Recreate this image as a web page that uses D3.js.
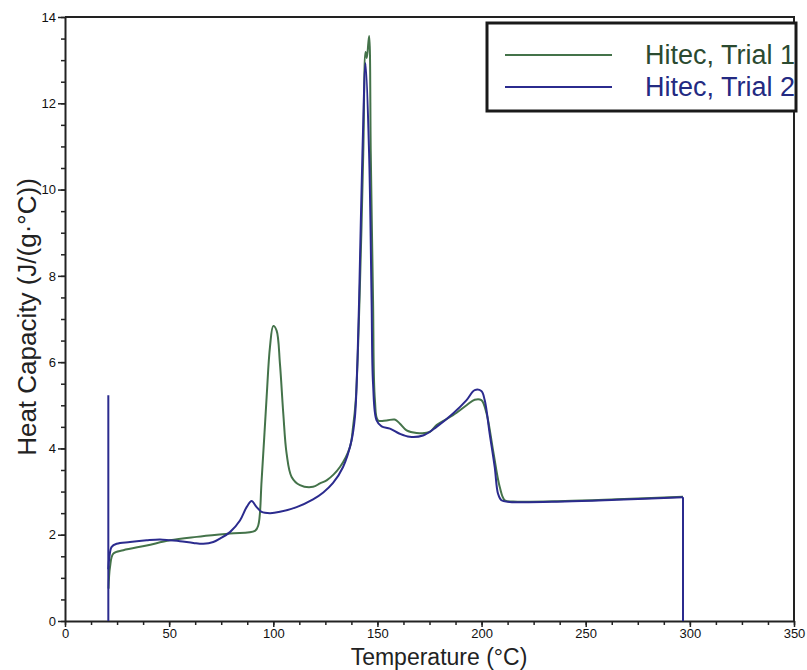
<!DOCTYPE html>
<html>
<head>
<meta charset="UTF-8">
<title>Hitec heat capacity</title>
<script src="https://cdn.jsdelivr.net/npm/d3@7"></script>
<style>
  body { margin: 0; background: #fff; }
  svg { font-family: "Liberation Sans", Arial, sans-serif; }
  .axis text { font-size: 13px; fill: #111; }
  .axis path, .axis line { stroke: #222; }
</style>
</head>
<body>
<div id="chart"></div>
<script>
// series names + colours (legend order)
var seriesNames = ["Hitec, Trial 1", "Hitec, Trial 2"];
var lineColors = ["#44734a", "#2b2b8e"];
var textColors = ["#2b4a30", "#232a82"];

// Trial 1: [temperature degC, heat capacity J/(g.degC)]
var trial1 = [
  [20.9, 0.75], [21.6, 1.25], [23.2, 1.56], [28.0, 1.64], [39.2, 1.75], [50.4, 1.87],
  [63.2, 1.95], [79.2, 2.03], [91.2, 2.09], [92.8, 2.22], [94.4, 3.26], [96.8, 5.19],
  [98.4, 6.35], [100.0, 6.84], [101.6, 6.73], [103.2, 5.96], [104.8, 4.81], [106.4, 3.88],
  [108.8, 3.34], [112.8, 3.15], [119.1, 3.11], [122.4, 3.19], [125.6, 3.26], [132.0, 3.57],
  [136.8, 4.03], [138.3, 4.50], [139.6, 5.12], [141.4, 7.43], [143.2, 10.84], [144.3, 13.19],
  [144.9, 13.05], [146.0, 13.56], [146.8, 10.84], [147.9, 7.43], [148.8, 5.12], [150.3, 4.65],
  [154.4, 4.65], [158.3, 4.67], [160.7, 4.58], [164.0, 4.42], [168.8, 4.36], [175.1, 4.38],
  [178.4, 4.54], [186.3, 4.77], [192.8, 5.00], [196.7, 5.13], [199.9, 5.12], [202.4, 4.81],
  [205.5, 3.96], [208.7, 3.11], [211.1, 2.80], [215.1, 2.77], [240, 2.78], [265, 2.82],
  [296.7, 2.88]
];

// Trial 2 curve
var trial2 = [
  [20.8, 1.2], [21.3, 1.48], [22.4, 1.72], [24.8, 1.79],
  [31.2, 1.83], [39.2, 1.87], [45.6, 1.89], [50.4, 1.87], [55.2, 1.85], [61.6, 1.81],
  [66.4, 1.79], [71.2, 1.83], [74.4, 1.91], [79.2, 2.06], [84.0, 2.33], [87.2, 2.64],
  [89.6, 2.78], [92.0, 2.64], [94.4, 2.53], [98.4, 2.50], [103.2, 2.53], [111.2, 2.64],
  [119.1, 2.82], [124.0, 2.98], [128.7, 3.20], [133.5, 3.57], [137.6, 4.19], [139.2, 4.73],
  [140.3, 5.89], [141.2, 7.43], [142.8, 10.84], [144.3, 12.93], [146.0, 10.84], [147.2, 7.43],
  [147.9, 5.50], [149.6, 4.65], [152.0, 4.51], [156.0, 4.46], [160.7, 4.34], [165.5, 4.27],
  [171.9, 4.30], [178.4, 4.50], [186.3, 4.81], [192.8, 5.12], [196.7, 5.35], [199.9, 5.33],
  [201.5, 5.12], [203.9, 4.34], [206.3, 3.57], [207.9, 2.95], [209.5, 2.80], [213.5, 2.76],
  [240, 2.77], [265, 2.81], [296.7, 2.87]
];
// vertical instrument lines at the start and end of trial 2
var trial2Start = [[20.8, 0], [20.8, 5.23], [20.8, 1.2]];
var trial2End = [[296.7, 2.87], [296.7, 0]];

var xTicks = [0, 50, 100, 150, 200, 250, 300, 350];
var yTicks = [0, 2, 4, 6, 8, 10, 12, 14];

var width = 807, height = 670;
var margin = {top: 17, right: 13, bottom: 49, left: 65};

var svg = d3.select("#chart").append("svg")
  .attr("width", width)
  .attr("height", height);

var x = d3.scaleLinear().domain([0, 350]).range([margin.left, width - margin.right]);
var y = d3.scaleLinear().domain([0, 14]).range([height - margin.bottom, margin.top]);

// minor ticks first (every 12.5 degC and 0.5 units)
svg.append("g")
  .attr("class", "axis")
  .attr("transform", "translate(0," + y(0) + ")")
  .call(d3.axisBottom(x).tickValues(d3.range(0, 350.1, 12.5)).tickSize(4).tickFormat(""))
  .call(function(g){ g.select(".domain").remove(); })
  .selectAll("line").attr("stroke-width", 1.5);

svg.append("g")
  .attr("class", "axis")
  .attr("transform", "translate(" + x(0) + ",0)")
  .call(d3.axisLeft(y).tickValues(d3.range(0, 14.01, 0.5)).tickSize(4).tickFormat(""))
  .call(function(g){ g.select(".domain").remove(); })
  .selectAll("line").attr("stroke-width", 1.5);

// major axes
var xAxis = svg.append("g")
  .attr("class", "axis")
  .attr("transform", "translate(0," + y(0) + ")")
  .call(d3.axisBottom(x).tickValues(xTicks).tickSize(6).tickSizeOuter(0).tickPadding(2));
xAxis.select(".domain").attr("stroke-width", 2);
xAxis.selectAll(".tick line").attr("stroke-width", 1.5);

var yAxis = svg.append("g")
  .attr("class", "axis")
  .attr("transform", "translate(" + x(0) + ",0)")
  .call(d3.axisLeft(y).tickValues(yTicks).tickSize(7).tickSizeOuter(0).tickPadding(2));
yAxis.select(".domain").attr("stroke-width", 2);
yAxis.selectAll(".tick line").attr("stroke-width", 1.5);

// top and right frame
svg.append("path")
  .attr("d", "M" + x(0) + "," + y(14) + "H" + x(350) + "V" + y(0))
  .attr("fill", "none")
  .attr("stroke", "#222")
  .attr("stroke-width", 2);

// curves
var line = d3.line()
  .x(function(d){ return x(d[0]); })
  .y(function(d){ return y(d[1]); })
  .curve(d3.curveCatmullRom.alpha(0.5));

var straight = d3.line()
  .x(function(d){ return x(d[0]); })
  .y(function(d){ return y(d[1]); });

svg.append("path")
  .datum(trial1)
  .attr("d", line)
  .attr("fill", "none")
  .attr("stroke", lineColors[0])
  .attr("stroke-width", 2);

[trial2Start, trial2End].forEach(function(seg){
  svg.append("path")
    .datum(seg)
    .attr("d", straight)
    .attr("fill", "none")
    .attr("stroke", lineColors[1])
    .attr("stroke-width", 2);
});

svg.append("path")
  .datum(trial2)
  .attr("d", line)
  .attr("fill", "none")
  .attr("stroke", lineColors[1])
  .attr("stroke-width", 2);

// axis titles
svg.append("text")
  .attr("x", 439)
  .attr("y", 665)
  .attr("text-anchor", "middle")
  .attr("font-size", "23px")
  .attr("fill", "#222")
  .text("Temperature (°C)");

svg.append("text")
  .attr("transform", "translate(36,317) rotate(-90)")
  .attr("text-anchor", "middle")
  .attr("font-size", "26px")
  .attr("fill", "#222")
  .text("Heat Capacity (J/(g·°C))");

// legend box (it runs past the frame and clips the labels)
svg.append("clipPath").attr("id", "legclip")
  .append("rect").attr("x", 487).attr("y", 23).attr("width", 308).attr("height", 88);

var legend = svg.append("g");
legend.append("rect")
  .attr("x", 487).attr("y", 23)
  .attr("width", 309).attr("height", 88)
  .attr("fill", "#fff")
  .attr("stroke", "#1a1a1a")
  .attr("stroke-width", 3);

var items = legend.append("g")
  .attr("clip-path", "url(#legclip)")
  .selectAll("g.item")
  .data(seriesNames)
  .enter().append("g")
  .attr("class", "item")
  .attr("transform", function(d, i){ return "translate(0," + (55 + i * 32) + ")"; });

items.append("line")
  .attr("x1", 505).attr("x2", 612)
  .attr("stroke", function(d, i){ return lineColors[i]; })
  .attr("stroke-width", 2);

items.append("text")
  .attr("x", 645)
  .attr("y", 9)
  .attr("font-size", "27px")
  .attr("fill", function(d, i){ return textColors[i]; })
  .text(function(d){ return d; });
</script>
</body>
</html>
